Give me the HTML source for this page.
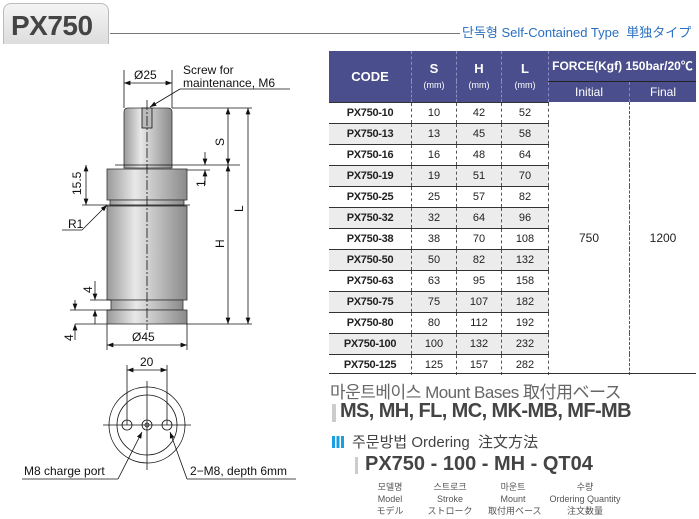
<!DOCTYPE html>
<html><head><meta charset="utf-8"><style>
body{margin:0;width:699px;height:519px;background:#fff;position:relative;overflow:hidden;font-family:"Liberation Sans","Noto Sans CJK KR",sans-serif}
.a{position:absolute;white-space:nowrap}
table{position:absolute;left:329px;top:51px;border-collapse:collapse;width:367px;font-size:11px;color:#222}
th{background:#4a4e8c;color:#fff;font-weight:bold;padding:0;border-right:1px dashed #8a8fc0}
td{height:20px;padding:0;text-align:center;border-right:1px dashed #555;border-top:1px solid #333}
tr.g td{background:#ececec}
td.c{font-weight:bold;font-size:11px;letter-spacing:-0.3px}
td.f{background:#fff!important;border-top:none;font-size:12px}
</style></head><body>
<div class="a" style="left:3px;top:3px;width:104px;height:40px;border-radius:8px 8px 0 0;background:linear-gradient(#f4f4f4,#ddd);border:1px solid #bbb;border-bottom:none"></div>
<div class="a" style="left:11px;top:10px;font-size:28px;font-weight:bold;color:#444;letter-spacing:-0.5px">PX750</div>
<div class="a" style="left:110px;top:33px;width:350px;height:1px;background:#777"></div>
<div class="a" style="left:462px;top:22px;font-size:13px;color:#2a6fc0;font-family:'Liberation Sans','Noto Sans CJK JP',sans-serif">단독형 Self-Contained Type &nbsp;単独タイプ</div>

<table>
<tr style="height:30px"><th rowspan="2" style="width:82px;font-size:13px">CODE</th><th rowspan="2" style="width:44px;font-size:13px">S<br><span style="font-size:9px;font-weight:normal">(mm)</span></th><th rowspan="2" style="width:44px;font-size:13px">H<br><span style="font-size:9px;font-weight:normal">(mm)</span></th><th rowspan="2" style="width:46px;font-size:13px">L<br><span style="font-size:9px;font-weight:normal">(mm)</span></th><th colspan="2" style="font-size:12px;border-bottom:1px solid #222;border-right:none">FORCE(Kgf) 150bar/20℃</th></tr>
<tr style="height:21px"><th style="width:80px;font-size:12px;font-weight:normal">Initial</th><th style="font-size:12px;font-weight:normal;border-right:none">Final</th></tr>
<tr><td class="c">PX750-10</td><td>10</td><td>42</td><td>52</td><td class="f" rowspan="13">750</td><td class="f" rowspan="13" style="border-right:none">1200</td></tr>
<tr class="g"><td class="c">PX750-13</td><td>13</td><td>45</td><td>58</td></tr>
<tr><td class="c">PX750-16</td><td>16</td><td>48</td><td>64</td></tr>
<tr class="g"><td class="c">PX750-19</td><td>19</td><td>51</td><td>70</td></tr>
<tr><td class="c">PX750-25</td><td>25</td><td>57</td><td>82</td></tr>
<tr class="g"><td class="c">PX750-32</td><td>32</td><td>64</td><td>96</td></tr>
<tr><td class="c">PX750-38</td><td>38</td><td>70</td><td>108</td></tr>
<tr class="g"><td class="c">PX750-50</td><td>50</td><td>82</td><td>132</td></tr>
<tr><td class="c">PX750-63</td><td>63</td><td>95</td><td>158</td></tr>
<tr class="g"><td class="c">PX750-75</td><td>75</td><td>107</td><td>182</td></tr>
<tr><td class="c">PX750-80</td><td>80</td><td>112</td><td>192</td></tr>
<tr class="g"><td class="c">PX750-100</td><td>100</td><td>132</td><td>232</td></tr>
<tr><td class="c">PX750-125</td><td>125</td><td>157</td><td>282</td></tr>
</table>
<div class="a" style="left:329px;top:373px;width:367px;height:1px;background:#333"></div>

<svg class="a" style="left:0;top:0" width="330" height="519" font-family="Liberation Sans" font-size="12" fill="none" stroke="#111" stroke-width="0.8">
<defs><linearGradient id="g" x1="0" x2="1"><stop offset="0" stop-color="#9a9a9a"/><stop offset="0.35" stop-color="#e8e8e8"/><stop offset="1" stop-color="#8a8a8a"/></linearGradient>
<marker id="m" markerWidth="8" markerHeight="6" refX="8" refY="3" orient="auto-start-reverse"><path d="M0,0L8,3L0,6z" fill="#111" stroke="none"/></marker></defs>
<g fill="url(#g)" stroke="#333">
<path d="M124,112 Q124,108 128,108 L168,108 Q172,108 172,112 L172,168 L124,168z"/>
<rect x="107" y="169" width="80" height="31"/>
<rect x="110" y="200" width="74" height="6"/>
<rect x="107" y="206" width="80" height="94"/>
<rect x="111" y="300" width="72" height="10"/>
<rect x="107" y="310" width="80" height="14"/>
</g>
<rect x="142" y="108" width="10" height="20" fill="#bbb"/>
<line x1="147" y1="100" x2="147" y2="330" stroke-dasharray="10,2,2,2"/>
<line x1="124" y1="70" x2="124" y2="108"/><line x1="172" y1="70" x2="172" y2="108"/>
<line x1="124" y1="83" x2="172" y2="83" marker-start="url(#m)" marker-end="url(#m)"/>
<line x1="180" y1="89" x2="290" y2="89"/><line x1="180" y1="89" x2="150" y2="107" marker-end="url(#m)"/>
<line x1="172" y1="108" x2="252" y2="108"/>
<line x1="115" y1="165" x2="240" y2="165"/>
<line x1="82" y1="205" x2="190" y2="205"/>
<line x1="187" y1="170" x2="210" y2="170"/>
<line x1="228" y1="108" x2="228" y2="165" marker-start="url(#m)" marker-end="url(#m)"/>
<line x1="228" y1="165" x2="228" y2="324" marker-start="url(#m)" marker-end="url(#m)"/>
<line x1="248" y1="108" x2="248" y2="324" marker-start="url(#m)" marker-end="url(#m)"/>
<line x1="187" y1="324" x2="252" y2="324"/><line x1="75" y1="324" x2="107" y2="324"/>
<line x1="205" y1="152" x2="205" y2="165" marker-end="url(#m)"/><line x1="205" y1="185" x2="205" y2="170" marker-end="url(#m)"/>
<line x1="86" y1="165" x2="86" y2="205" marker-start="url(#m)" marker-end="url(#m)"/>
<line x1="62" y1="230" x2="82" y2="230"/><line x1="82" y1="230" x2="107" y2="205" marker-end="url(#m)"/>
<line x1="90" y1="300" x2="111" y2="300"/><line x1="70" y1="310" x2="111" y2="310"/>
<line x1="95" y1="281" x2="95" y2="300" marker-end="url(#m)"/><line x1="95" y1="324" x2="95" y2="310" marker-end="url(#m)"/>
<line x1="75" y1="300" x2="75" y2="310" marker-end="url(#m)"/>
<line x1="75" y1="340" x2="75" y2="324" marker-end="url(#m)"/>
<line x1="107" y1="324" x2="107" y2="350"/><line x1="187" y1="324" x2="187" y2="350"/>
<line x1="107" y1="345" x2="187" y2="345" marker-start="url(#m)" marker-end="url(#m)"/>
<circle cx="147" cy="425" r="38"/><circle cx="147" cy="425" r="30"/>
<circle cx="127" cy="425" r="5"/><circle cx="167" cy="425" r="5"/><circle cx="147" cy="425" r="5"/><circle cx="147" cy="425" r="2"/>
<line x1="103" y1="425" x2="191" y2="425"/><line x1="147" y1="381" x2="147" y2="470"/>
<line x1="127" y1="365" x2="127" y2="425"/><line x1="167" y1="365" x2="167" y2="425"/>
<line x1="127" y1="370" x2="167" y2="370" marker-start="url(#m)" marker-end="url(#m)"/>
<line x1="22" y1="479" x2="118" y2="479"/><line x1="118" y1="479" x2="142" y2="432" marker-end="url(#m)"/>
<line x1="187" y1="479" x2="296" y2="479"/><line x1="187" y1="479" x2="170" y2="432" marker-end="url(#m)"/>
<g fill="#111" stroke="none">
<text x="134" y="79">Ø25</text>
<text x="183" y="74">Screw for</text><text x="183" y="87">maintenance, M6</text>
<text x="132" y="341">Ø45</text>
<text x="140" y="366">20</text>
<text x="24" y="475">M8 charge port</text>
<text x="190" y="475">2−M8, depth 6mm</text>
<text x="68" y="228">R1</text>
<text transform="translate(224,146) rotate(-90)">S</text>
<text transform="translate(243,212) rotate(-90)">L</text>
<text transform="translate(224,248) rotate(-90)">H</text>
<text transform="translate(81,195) rotate(-90)">15.5</text>
<text transform="translate(205,187) rotate(-90)">1</text>
<text transform="translate(92,293) rotate(-90)">4</text>
<text transform="translate(73,341) rotate(-90)">4</text>
</g>
</svg>

<div class="a" style="left:330px;top:378px;font-size:17px;color:#666;letter-spacing:-0.5px;font-family:'Liberation Sans','Noto Sans CJK JP',sans-serif">마운트베이스 Mount Bases 取付用ベース</div>
<div class="a" style="left:332px;top:404px;width:4px;height:18px;background:#ccc"></div>
<div class="a" style="left:340px;top:400px;font-size:20px;font-weight:bold;color:#444;letter-spacing:-0.6px">MS, MH, FL, MC, MK-MB, MF-MB</div>
<div class="a" style="left:332px;top:436px;width:12px;height:12px;background:repeating-linear-gradient(90deg,#1aa0e0 0 3px,#fff 3px 4.5px)"></div>
<div class="a" style="left:352px;top:431px;font-size:15px;color:#444;font-family:'Liberation Sans','Noto Sans CJK JP',sans-serif">주문방법 Ordering &nbsp;注文方法</div>
<div class="a" style="left:355px;top:457px;width:3px;height:17px;background:#ccc"></div>
<div class="a" style="left:365px;top:453px;font-size:20px;font-weight:bold;color:#444">PX750 - 100 - MH - QT04</div>
<div class="a" style="left:370px;top:481px;font-size:9px;color:#555;text-align:center;line-height:12px;font-family:'Liberation Sans','Noto Sans CJK JP',sans-serif;width:320px">
<span class="a" style="left:0;width:40px">모델명<br>Model<br>モデル</span>
<span class="a" style="left:55px;width:50px">스트로크<br>Stroke<br>ストローク</span>
<span class="a" style="left:118px;width:50px">마운트<br>Mount<br>取付用ベース</span>
<span class="a" style="left:175px;width:80px">수량<br>Ordering Quantity<br>注文数量</span>
</div>
</body></html>
